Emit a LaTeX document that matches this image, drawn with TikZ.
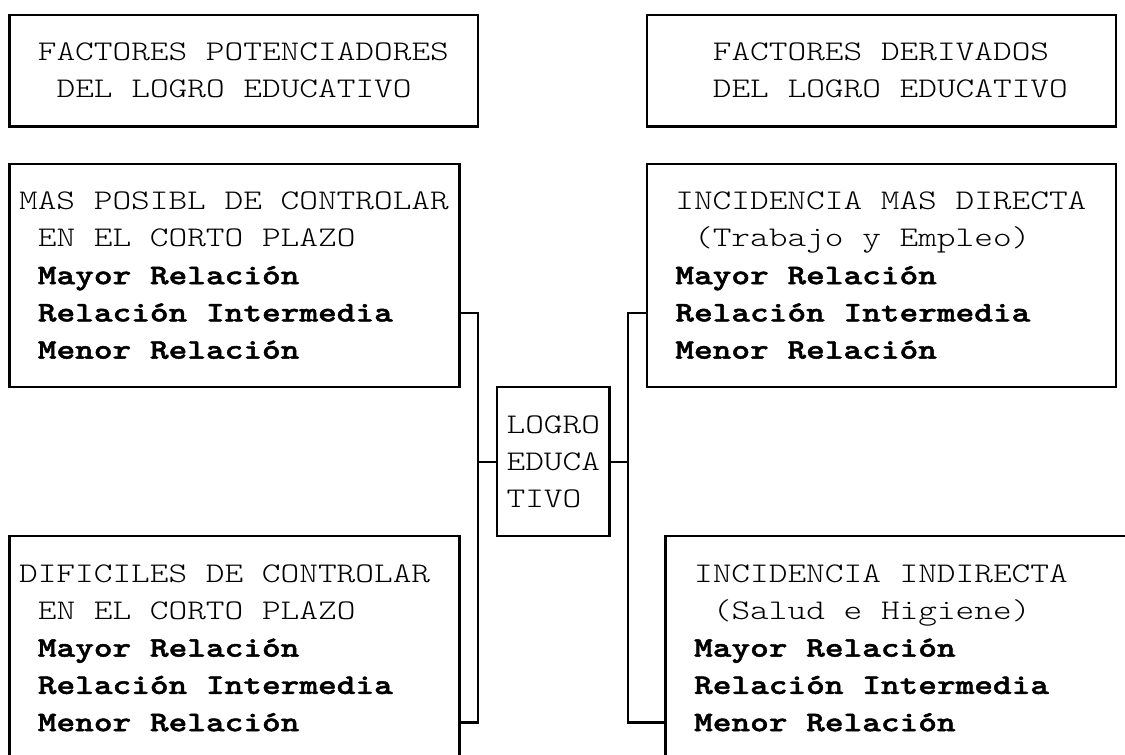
\documentclass[tikz,border=0pt]{standalone}
\usepackage{fontspec}
\newfontfamily\courier{lmmonolt10-regular.otf}[BoldFont=lmmonolt10-bold.otf, BoldFeatures={FakeBold=1.6}, FakeStretch=1.25]
\usepackage{tikz}
\tikzstyle{box} = [rectangle, draw, line width=1.3pt, outer sep=0pt]
\tikzstyle{txt} = [anchor=west, inner sep=0pt, text height=9.9pt, text depth=0pt, font=\courier\fontsize{16.2}{20}\selectfont]
\tikzstyle{btxt} = [txt, font=\courier\fontsize{16.2}{20}\selectfont\bfseries]
\tikzstyle{link} = [line width=1.3pt]

\begin{document}
\begin{tikzpicture}[x=0.375cm, y=-0.745cm]
    \useasboundingbox (-0.5,-0.395) rectangle (59.5,19.85);
    \clip (-0.5,-0.395) rectangle (59.5,19.85);

    % Header: potenciadores
    \node[box, minimum width=9.375cm, minimum height=2.235cm] (potBox) at (12.5,1.5) {};
    \node[txt] (pot1) at (1.5,1) {FACTORES POTENCIADORES};
    \node[txt] (pot2) at (2.5,2) {DEL LOGRO EDUCATIVO};

    % Header: derivados
    \node[box, minimum width=9.375cm, minimum height=2.235cm] (derBox) at (46.5,1.5) {};
    \node[txt] (der1) at (37.5,1) {FACTORES DERIVADOS};
    \node[txt] (der2) at (37.5,2) {DEL LOGRO EDUCATIVO};

    % Mas posibl de controlar
    \node[box, minimum width=9cm, minimum height=4.47cm] (ctrlBox) at (12,7) {};
    \node[txt] (ctrl1) at (0.5,5) {MAS POSIBL DE CONTROLAR};
    \node[txt] (ctrl2) at (1.5,6) {EN EL CORTO PLAZO};
    \node[btxt] (ctrl3) at (1.5,7) {Mayor Relación};
    \node[btxt] (ctrl4) at (1.5,8) {Relación Intermedia};
    \node[btxt] (ctrl5) at (1.5,9) {Menor Relación};

    % Incidencia mas directa
    \node[box, minimum width=9.375cm, minimum height=4.47cm] (dirBox) at (46.5,7) {};
    \node[txt] (dir1) at (35.5,5) {INCIDENCIA MAS DIRECTA};
    \node[txt] (dir2) at (36.5,6) {(Trabajo y Empleo)};
    \node[btxt] (dir3) at (35.5,7) {Mayor Relación};
    \node[btxt] (dir4) at (35.5,8) {Relación Intermedia};
    \node[btxt] (dir5) at (35.5,9) {Menor Relación};

    % Logro educativo
    \node[box, minimum width=2.25cm, minimum height=2.98cm] (logro) at (29,12) {};
    \node[txt] (logro1) at (26.5,11) {LOGRO};
    \node[txt] (logro2) at (26.5,12) {EDUCA};
    \node[txt] (logro3) at (26.5,13) {TIVO};

    % Dificiles de controlar
    \node[box, minimum width=9cm, minimum height=4.47cm] (difBox) at (12,17) {};
    \node[txt] (dif1) at (0.5,15) {DIFICILES DE CONTROLAR};
    \node[txt] (dif2) at (1.5,16) {EN EL CORTO PLAZO};
    \node[btxt] (dif3) at (1.5,17) {Mayor Relación};
    \node[btxt] (dif4) at (1.5,18) {Relación Intermedia};
    \node[btxt] (dif5) at (1.5,19) {Menor Relación};

    % Incidencia indirecta
    \node[box, minimum width=9.375cm, minimum height=4.47cm] (indBox) at (47.5,17) {};
    \node[txt] (ind1) at (36.5,15) {INCIDENCIA INDIRECTA};
    \node[txt] (ind2) at (37.5,16) {(Salud e Higiene)};
    \node[btxt] (ind3) at (36.5,17) {Mayor Relación};
    \node[btxt] (ind4) at (36.5,18) {Relación Intermedia};
    \node[btxt] (ind5) at (36.5,19) {Menor Relación};

    % Connections
    \coordinate (jL) at (25,8);
    \coordinate (jR) at (33,8);
    \draw[link] (ctrlBox.east |- ctrl4) -- (jL) -- (jL |- dif5) -- (difBox.east |- dif5);
    \draw[link] (jL |- logro) -- (logro.west);
    \draw[link] (dirBox.west |- dir4) -- (jR) -- (jR |- ind5) -- (indBox.west |- ind5);
    \draw[link] (jR |- logro) -- (logro.east);
\end{tikzpicture}
\end{document}
